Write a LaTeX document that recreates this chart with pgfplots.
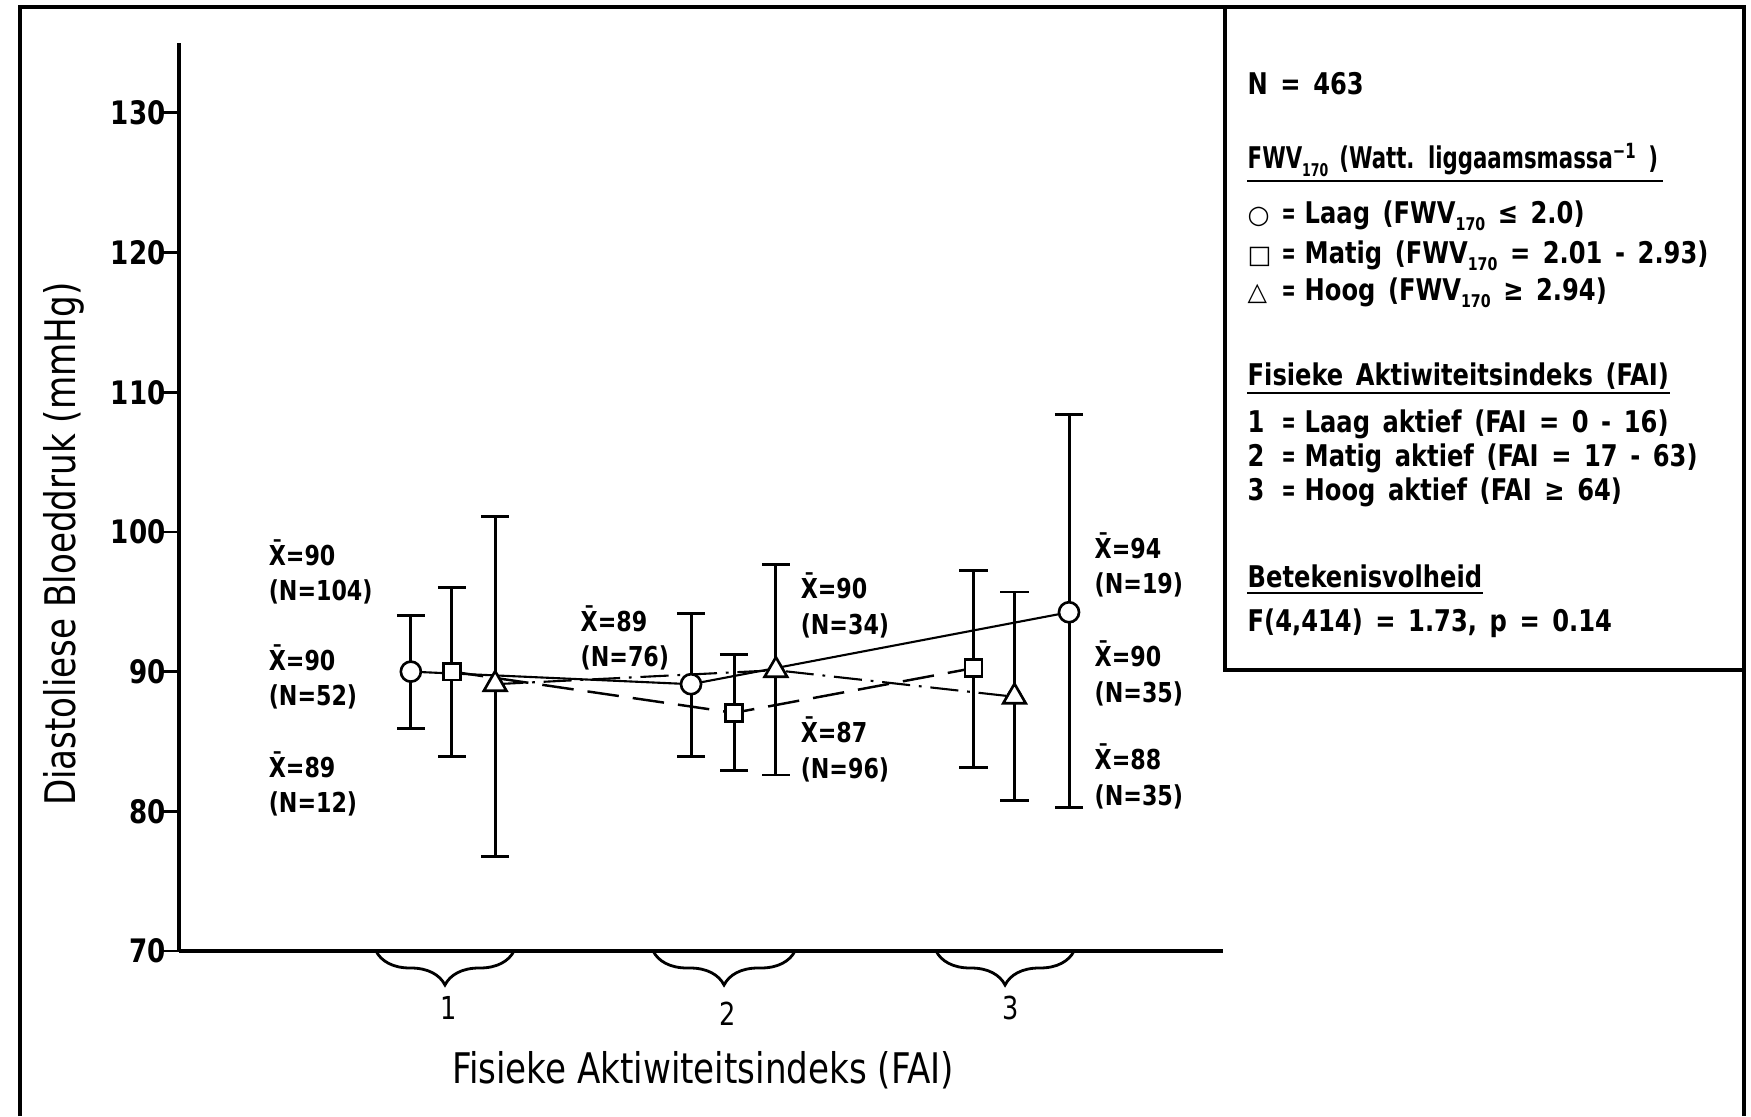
\documentclass[border=0pt]{standalone}
\usepackage{fontspec}
\setmainfont{DejaVu Sans Condensed}[FakeStretch=0.9]
\newfontfamily\symfont{DejaVu Sans Bold}
\usepackage{graphicx}
\usepackage{pgfplots}
\pgfplotsset{compat=1.18}
\usepackage{pgfplotstable}
\usetikzlibrary{decorations.pathreplacing}

% x: position within group, y: mean, ep/em: upper/lower extent of bar
\pgfplotstableread{
x y ep em
0.864 90.00 4.00 4.05
1.861 89.10 5.05 5.15
3.206 94.25 14.15 14.00
}\circdata
\pgfplotstableread{
x y ep em
1.010 90.00 6.05 6.05
2.014 87.05 4.15 4.15
2.866 90.25 7.00 7.10
}\sqdata
\pgfplotstableread{
x y ep em
1.164 89.10 12.00 12.30
2.163 90.10 7.55 7.50
3.012 88.20 7.50 7.40
}\tridata

\newcommand\sub[1]{\raisebox{-0.45ex}{\fontsize{5}{5}\selectfont #1}}
\newcommand\narroweq{\scalebox{0.7}[1]{=}}
\newcommand\row[3]{\makebox[0.34cm][l]{#1}\makebox[0.23cm][l]{#2}#3}
\newcommand\annfont{\bfseries\fontsize{7.8}{10.2}\selectfont}
\newcommand\lgfont{\bfseries\fontsize{8.5}{10}\selectfont\spaceskip=0.42em\relax}

\begin{document}
\begin{tikzpicture}
\useasboundingbox (0,0) rectangle (17.51,11.16);
\begin{axis}[
  at={(1.79cm,1.65cm)}, anchor=south west,
  scale only axis, width=10.44cm, height=9.08cm,
  xmin=0.039, xmax=3.754, ymin=70, ymax=135,
  axis x line=bottom, axis y line=left,
  x axis line style={-, line width=0.9pt},
  y axis line style={-, line width=1.2pt},
  xtick=\empty,
  ytick={70,80,...,130},
  tick align=outside,
  major tick length=0.19cm,
  ytick style={line width=0.8pt, black},
  /pgf/number format/assume math mode=true,
  yticklabel style={font=\bfseries\fontsize{9.2}{10}\selectfont, xshift=0.18cm},
  xlabel={Fisieke Aktiwiteitsindeks (FAI)},
  ylabel={Diastoliese Bloeddruk (mmHg)},
  xlabel style={at={(axis description cs:0.502,-0.131)}, anchor=center, font=\fontsize{12}{14}\selectfont},
  ylabel style={at={(axis description cs:-0.110,0.448)}, anchor=center, font=\fontsize{12}{14}\selectfont},
  clip=false,
]
% connecting lines
\addplot[black, line width=0.6pt, mark=none] table[x=x,y=y] {\circdata};
\addplot[black, line width=0.7pt, mark=none, dash pattern=on 9pt off 4pt] table[x=x,y=y] {\sqdata};
\addplot[black, line width=0.6pt, mark=none, dash pattern=on 8pt off 2.5pt on 0.8pt off 2.5pt] table[x=x,y=y] {\tridata};
% error bars
\pgfplotsset{ebar/.style={black, only marks, mark=none,
  error bars/.cd, y dir=both, y explicit,
  error bar style={line width=0.85pt},
  error mark options={rotate=90, line width=0.85pt, mark size=4pt}}}
\addplot[ebar] table[x=x,y=y,y error plus=ep,y error minus=em] {\circdata};
\addplot[ebar] table[x=x,y=y,y error plus=ep,y error minus=em] {\sqdata};
\addplot[ebar] table[x=x,y=y,y error plus=ep,y error minus=em] {\tridata};
% markers
\addplot[only marks, mark=*, mark size=2.85pt, mark options={fill=white, draw=black, line width=0.75pt}] table[x=x,y=y] {\circdata};
\addplot[only marks, mark=square*, mark size=2.4pt, mark options={fill=white, draw=black, line width=0.75pt}] table[x=x,y=y] {\sqdata};
\addplot[only marks, mark=triangle*, mark size=3.7pt, mark options={fill=white, draw=black, line width=0.75pt}] table[x=x,y=y] {\tridata};

% group braces and labels
\draw[decorate, decoration={brace, mirror, amplitude=0.34cm}, line width=0.8pt] (axis cs:0.740,70) -- (axis cs:1.231,70);
\draw[decorate, decoration={brace, mirror, amplitude=0.34cm}, line width=0.8pt] (axis cs:1.726,70) -- (axis cs:2.231,70);
\draw[decorate, decoration={brace, mirror, amplitude=0.34cm}, line width=0.8pt] (axis cs:2.733,70) -- (axis cs:3.224,70);
\node[font=\fontsize{9}{10}\selectfont, yshift=-0.57cm] at (axis cs:1.0,70) {1};
\node[font=\fontsize{9}{10}\selectfont, yshift=-0.63cm] at (axis cs:1.993,70) {2};
\node[font=\fontsize{9}{10}\selectfont, yshift=-0.57cm] at (axis cs:3.0,70) {3};

% annotations
\tikzset{ann/.style={anchor=west, align=left, inner sep=0pt, font=\annfont}}
\node[ann] at (axis cs:0.356,97.14) {\=X=90\\(N=104)};
\node[ann] at (axis cs:0.356,89.62) {\=X=90\\(N=52)};
\node[ann] at (axis cs:0.356,81.96) {\=X=89\\(N=12)};
\node[ann] at (axis cs:1.466,92.41) {\=X=89\\(N=76)};
\node[ann] at (axis cs:2.249,94.77) {\=X=90\\(N=34)};
\node[ann] at (axis cs:2.249,84.46) {\=X=87\\(N=96)};
\node[ann] at (axis cs:3.295,97.64) {\=X=94\\(N=19)};
\node[ann] at (axis cs:3.295,89.90) {\=X=90\\(N=35)};
\node[ann] at (axis cs:3.295,82.53) {\=X=88\\(N=35)};
\end{axis}

% frame and legend box
\draw[line width=1.4pt] (0.20,0) -- (0.20,11.09) -- (17.44,11.09) -- (17.44,0);
\draw[line width=1.2pt] (12.25,11.09) -- (12.25,4.46) -- (17.44,4.46);

\begin{scope}[every node/.style={anchor=west, inner sep=0pt, font=\lgfont}]
\node at (12.47,10.32) {N = 463};
\node (h1) at (12.47,9.56) {\scalebox{0.88}[1]{FWV\sub{170} (Watt. liggaamsmassa\textsuperscript{−1} )}};
\draw[line width=0.8pt] ([yshift=-0.21cm]h1.west) -- ([yshift=-0.21cm,xshift=0.04cm]h1.east);
\node at (12.47,9.005) {\row{{\symfont\fontsize{7.2}{8}\selectfont ○}}{\narroweq}{Laag (FWV\sub{170} ≤ 2.0)}};
\node at (12.47,8.60) {\row{{\symfont\fontsize{7.2}{8}\selectfont □}}{\narroweq}{Matig (FWV\sub{170} = 2.01 - 2.93)}};
\node at (12.47,8.235) {\row{{\symfont\fontsize{7.2}{8}\selectfont △}}{\narroweq}{Hoog (FWV\sub{170} ≥ 2.94)}};
\node (h2) at (12.47,7.40) {Fisieke Aktiwiteitsindeks (FAI)};
\draw[line width=0.8pt] ([yshift=-0.17cm]h2.west) -- ([yshift=-0.17cm]h2.east);
\node at (12.47,6.92) {\row{1}{\narroweq}{Laag aktief (FAI = 0 - 16)}};
\node at (12.47,6.58) {\row{2}{\narroweq}{Matig aktief (FAI = 17 - 63)}};
\node at (12.47,6.24) {\row{3}{\narroweq}{Hoog aktief (FAI ≥ 64)}};
\node (h3) at (12.47,5.40) {Betekenisvolheid};
\draw[line width=0.8pt] ([yshift=-0.17cm]h3.west) -- ([yshift=-0.17cm]h3.east);
\node at (12.47,4.93) {F(4,414) = 1.73, p = 0.14};
\end{scope}
\end{tikzpicture}
\end{document}
